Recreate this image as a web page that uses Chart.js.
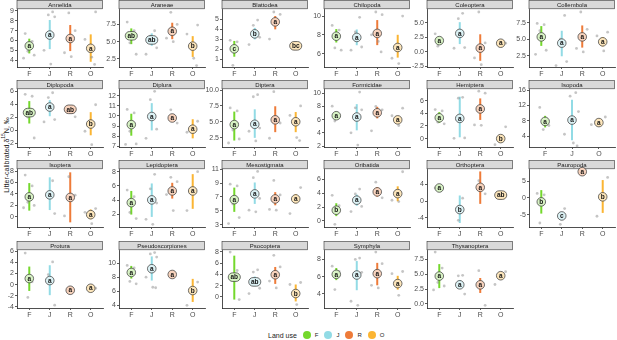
<!DOCTYPE html>
<html>
<head>
<meta charset="utf-8">
<script src="https://cdn.jsdelivr.net/npm/chart.js@4"></script>
<style>
  body { margin: 0; background: #fff; font-family: "Liberation Sans", Arial, sans-serif; }
  #wrap { position: relative; width: 617px; height: 340px; overflow: hidden; }
  #wrap canvas { position: absolute; }
  #ytitle {
    position: absolute; left: 5px; top: 155px; white-space: nowrap;
    transform: translate(-50%, -50%) rotate(-90deg);
    font-size: 7px; color: #1a1a1a;
  }
  #ytitle sup { font-size: 5px; }
  #legend {
    position: absolute; left: 268px; top: 331px; display: flex; align-items: center;
    font-size: 7px; color: #1a1a1a;
  }
  #legend .dot { width: 8px; height: 8px; border-radius: 50%; display: inline-block; margin: 0 4px 0 6px; }
  #legend .lab { font-size: 6px; }
</style>
</head>
<body>
<div id="wrap">
  <div id="ytitle">Litter-calibrated δ<sup>15</sup>N, ‰</div>
  <div id="legend"></div>
</div>
<script>
// facets and land-use groups
const taxa = ["Annelida", "Araneae", "Blattodea", "Chilopoda", "Coleoptera", "Collembola",
  "Diplopoda", "Diplura", "Diptera", "Formicidae", "Hemiptera", "Isopoda",
  "Isoptera", "Lepidoptera", "Mesostigmata", "Oribatida", "Orthoptera", "Pauropoda",
  "Protura", "Pseudoscorpiones", "Psocoptera", "Symphyla", "Thysanoptera"];
const landUse = ["F", "J", "R", "O"];

// group means (F, J, R, O); null = group absent
const means = [
  [5.45, 6.55, 6.2, 5.2], [5.85, 5.25, 6.5, 4.35], [2.05, 3.55, 4.75, 2.35],
  [7.85, 7.72, 8.15, 6.65], [1.9, 3.15, 0.6, 1.45], [5.35, 4.4, 5.35, 4.6],
  [2.7, 3.55, 3.2, 0.95], [9.15, 9.95, 9.8, 8.7], [4.55, 4.6, 5.3, 5.0],
  [6.6, 6.4, 7.05, 5.97], [3.3, 3.2, 4.7, 0.0], [7.85, 8.2, null, 7.55],
  [3.5, 3.85, 3.4, 0.4], [3.67, 4.05, 5.3, 5.3], [6.62, 7.45, 6.72, 6.72],
  [1.55, 3.0, 4.2, 3.95], [3.15, -2.0, 3.3, 1.45], [-1.2, -5.4, 7.8, 0.3],
  [1.08, 0.72, -1.02, -0.66], [8.67, 9.2, 8.38, 6.1], [3.5, 2.66, 3.93, 0.6],
  [6.27, 6.19, 6.35, 5.2], [4.66, 3.2, 3.2, 4.72]
];

// interval ends; null = no interval drawn
const ciLow = [
  [4.68, 5.12, 4.92, 3.83], [4.64, 4.4, 5.36, 2.79], [1.26, 3.0, 4.0, null],
  [7.18, 6.89, 6.9, 5.57], [1.4, 1.3, -1.6, null], [3.98, 2.4, 3.72, 3.9],
  [1.03, 2.15, 2.9, -0.77], [8.06, 8.58, 9.6, 7.8], [2.04, 2.46, 3.36, 3.36],
  [6.1, 4.38, 6.2, 5.5], [2.5, 0.21, 2.96, -0.3], [6.3, 3.0, null, 7.0],
  [1.1, 1.2, -0.94, -0.4], [2.0, 1.67, 4.23, 2.8], [4.85, 6.0, 5.8, 6.1],
  [0.7, 2.2, 3.5, 2.85], [null, -5.2, -0.64, null], [-4.7, -6.0, null, -4.5],
  [-1.14, -1.9, null, null], [7.8, 7.52, null, 4.48], [-0.47, 2.0, 2.3, -0.8],
  [5.6, 4.43, 5.0, 4.5], [2.65, 2.8, 1.84, null]
];
const ciHigh = [
  [6.18, 8.08, 7.57, 6.62], [6.92, 6.2, 7.74, 5.8], [2.84, 4.15, 5.34, null],
  [8.61, 8.57, 9.57, 8.0], [2.45, 5.1, 3.0, null], [6.99, 6.28, 7.09, 5.3],
  [4.46, 4.6, 3.5, 2.77], [10.22, 11.26, 10.0, 9.68], [6.6, 6.96, 7.44, 6.53],
  [7.2, 8.36, 7.95, 6.5], [4.2, 6.64, 6.37, 0.3], [9.3, 13.5, null, 8.1],
  [5.9, 6.9, 7.77, 1.3], [5.3, 6.35, 6.44, 7.65], [8.36, 9.1, 7.7, 7.4],
  [2.56, 3.8, 4.9, 5.0], [null, 1.36, 7.1, null], [2.3, -4.8, null, 5.3],
  [3.23, 3.47, null, null], [9.6, 10.95, null, 7.76], [7.3, 3.6, 5.3, 2.2],
  [7.0, 7.81, 7.6, 6.1], [6.66, 4.0, 4.34, null]
];

// compact letter display
const letters = [
  ["a", "a", "a", "a"], ["ab", "ab", "a", "b"], ["c", "b", "a", "bc"],
  ["a", "a", "a", "a"], ["a", "a", "a", "a"], ["a", "a", "a", "a"],
  ["ab", "a", "ab", "b"], ["a", "a", "a", "a"], ["a", "a", "a", "a"],
  ["a", "a", "a", "a"], ["a", "a", "a", "b"], ["a", "a", "", "a"],
  ["a", "a", "a", "a"], ["a", "a", "a", "a"], ["a", "a", "a", "a"],
  ["b", "a", "a", "a"], ["a", "b", "a", "ab"], ["b", "c", "a", "b"],
  ["a", "a", "a", "a"], ["a", "a", "a", "b"], ["ab", "ab", "a", "b"],
  ["a", "a", "a", "a"], ["a", "a", "a", "a"]
];

// individual observations per group
const rawValues = [
  [[6.7, 5.9, 4.9, 4.5, 4.2], [8.9, 8.6, 8.4, 5.0, 3.6], [8.8, 7.0, 4.75, 4.35], [8.9, 6.1, 4.3, 3.56]],
  [[7.84, 6.6, 4.83, 3.18], [6.58, 5.8, 4.1, 3.18], [9.25, 7.5, 5.5, 5.0], [7.4, 6.1, 2.6, 1.53]],
  [[2.9, 2.75, 0.4], [4.93, 4.4, 3.2, 2.48], [5.74, 5.5, 3.03], [2.35]],
  [[9.0, 8.5, 6.6, 6.36], [9.86, 8.3, 6.7, 6.36], [10.43, 10.14, 8.0, 7.3, 6.18], [10.0, 5.5, 4.93]],
  [[3.08, 2.0, 0.93], [6.63, 5.7, 0.7, 0.58], [6.86, 1.5, -1.1, -2.27], [1.45]],
  [[7.4, 7.2, 6.3, 3.32, 2.7], [8.62, 5.0, 1.6, 0.99], [9.13, 6.5, 3.6, 3.06], [6.07, 5.5, 3.21]],
  [[5.49, 5.2, 2.0, -1.18], [5.74, 5.0, 1.64, 1.28], [3.7, 2.05], [3.9, -0.15, -2.2]],
  [[10.64, 10.3, 8.5, 7.25, 7.2], [12.42, 11.6, 8.7, 7.8], [10.6, 9.3], [9.48, 8.4]],
  [[7.18, 6.7, 3.7, 2.28, 1.65], [9.26, 8.94, 4.0, 3.5, 1.98], [9.74, 4.8, 2.4], [7.5, 6.0, 2.5, 2.04]],
  [[8.05, 6.5, 5.8], [10.2, 7.8, 7.5, 4.0, 2.14], [8.0, 7.5, 4.3], [7.74, 6.6, 5.1]],
  [[4.6, 4.38, 2.6, 2.34], [6.54, 6.4, 0.1, 0.05], [7.52, 7.2, 2.16, 2.1], [1.86, -0.96]],
  [[11.48, 6.8, 5.74], [15.3, 14.4, 10.4, 4.52, 2.26, 1.48], [], [9.0, 7.0]],
  [[7.3, 5.4, 2.56, 2.0, 1.6], [6.3, 4.0, 0.58], [7.0, 3.8, 0.17], [1.45, 0.8, -1.17]],
  [[5.42, 4.5, 2.3, 1.44], [7.62, 5.6, 3.6, 1.34, 0.63], [7.2, 6.6, 4.8, 2.56], [8.0, 2.56]],
  [[8.85, 8.6, 6.0, 4.03, 3.15], [10.7, 9.8, 6.8, 5.1, 4.85], [9.4, 7.3, 5.2, 5.1], [8.36, 4.6]],
  [[3.7, 2.2, -0.48], [4.6, 3.9, 2.1, 1.35], [5.6, 3.34], [7.1, 2.99, 2.8]],
  [[3.15], [0.72, -4.56], [4.9, 1.76], [1.45]],
  [[1.3, 0.9, -7.5], [-3.2, -7.9], [7.8], [6.1, -5.5]],
  [[5.64, 0.5, -2.3], [4.07, 1.8, -3.7], [-1.02], [-0.66]],
  [[9.67, 9.3, 7.4, 7.05], [11.5, 11.3, 10.86, 8.0, 6.57, 6.5], [8.38], [7.3, 4.0]],
  [[7.94, 4.67, 2.9, -0.47], [4.79, 4.4, 1.53, 0.6], [7.35, 5.3, 2.8, 1.6], [2.55, 2.2, -1.36]],
  [[7.22, 6.6, 4.5], [8.15, 8.0, 6.5, 3.15, 2.68], [8.85, 7.5, 5.0, 4.7], [6.6, 6.35, 3.84]],
  [[8.66, 6.0, 3.6, 3.0, 2.35], [4.78, 4.7, 1.65], [5.56, -0.22], [5.4, 3.25]]
];

// y axis limits and tick labels per facet
const yMin = [3.3, 1.33, 0.23, 4.57, -2.67, 0.77, -2.56, 6.95, 1.02, 1.85, -1.33, 1.22,
  -1.75, 0.26, 2.66, -0.87, -6.16, -8.7, -4.2, 3.62, -1.96, 2.37, -0.67];
const yMax = [9.2, 9.73, 6.04, 10.75, 7.38, 9.59, 6.31, 12.65, 10.16, 10.66, 7.86, 16.26,
  8.35, 8.37, 11.05, 7.5, 7.68, 8.6, 6.2, 11.86, 8.3, 9.09, 9.01];
const yTicks = [
  [4, 5, 6, 7, 8, 9], [2.5, 5, 7.5], [1, 2, 3, 4, 5], [6, 8, 10], [-2.5, 0, 2.5, 5],
  [2.5, 5, 7.5], [-2, 0, 2, 4, 6], [7, 8, 9, 10, 11, 12], [2.5, 5, 7.5, 10],
  [2, 4, 6, 8, 10], [0, 2, 4, 6], [4, 8, 12, 16], [0, 2, 4, 6, 8], [2, 4, 6, 8],
  [3, 5, 7, 9, 11], [0, 2, 4, 6], [-4, 0, 4], [-5, 0, 5], [-4, -2, 0, 2, 4, 6],
  [4, 6, 8, 10], [0, 2, 4, 6, 8], [4, 6, 8], [0, 2.5, 5, 7.5]
];

const groupColors = { F: "#74d82c", J: "#92dbe5", R: "#ee7b39", O: "#fbb533" };
const paleColors = { F: "#d8f3c5", J: "#dcf2f5", R: "#f8d3bd", O: "#fde6bb" };
const jitter = [-0.2, 0.14, -0.07, 0.24, -0.28, 0.05, 0.19, -0.13];

const AXW = 24;      // y axis width inside each canvas
const PLOTW = 88;    // plot panel width
const CANH = 78;     // canvas height per facet row
const FONT = '"Liberation Sans", Arial, sans-serif';

const wrap = document.getElementById("wrap");

function renderPanel(i) {
  const col = i % 6;
  const row = Math.floor(i / 6);
  const plotLeft = 17 + col * 102.4;

  const canvas = document.createElement("canvas");
  canvas.width = AXW + PLOTW + 2;
  canvas.height = CANH;
  canvas.style.left = (plotLeft - AXW) + "px";
  canvas.style.top = (row * 80.2) + "px";
  wrap.appendChild(canvas);

  // only the groups that exist in this facet get an x position
  const present = landUse.map((g, j) => j).filter((j) => means[i][j] !== null);
  const cats = present.map((j) => landUse[j]);
  const decimals = yTicks[i].some((v) => !Number.isInteger(v)) ? 1 : 0;

  const datasets = [];
  const rawPts = [];
  present.forEach((j, p) => {
    rawValues[i][j].forEach((v, k) => rawPts.push({ x: p + 1 + jitter[(k + j) % jitter.length], y: v }));
  });
  datasets.push({
    type: "scatter", data: rawPts, pointRadius: 1.4, borderWidth: 0,
    backgroundColor: "rgba(140,140,140,0.5)", clip: false,
  });
  present.forEach((j, p) => {
    if (ciLow[i][j] === null) return;
    datasets.push({
      type: "line", data: [{ x: p + 1, y: ciLow[i][j] }, { x: p + 1, y: ciHigh[i][j] }],
      borderColor: groupColors[landUse[j]], borderWidth: 2, pointRadius: 0, clip: false,
    });
  });
  datasets.push({
    type: "scatter", label: "means", pointRadius: 0, clip: false,
    data: present.map((j, p) => ({ x: p + 1, y: means[i][j] })),
  });
  const meanIdx = datasets.length - 1;

  const axisGrid = { display: true, drawOnChartArea: false, drawTicks: true, tickLength: 2, color: "#333", lineWidth: 0.8 };
  const axisBorder = { display: true, color: "#222", width: 0.8 };
  const tickFont = { size: 7, family: FONT };

  new Chart(canvas.getContext("2d"), {
    type: "scatter",
    data: { datasets },
    options: {
      responsive: false,
      animation: false,
      devicePixelRatio: 1,
      layout: { padding: { top: 9, right: 2, left: 0, bottom: 0 } },
      scales: {
        x: {
          type: "linear", min: 0.4, max: cats.length + 0.6,
          afterBuildTicks: (s) => { s.ticks = cats.map((c, p) => ({ value: p + 1 })); },
          afterFit: (s) => { s.height = 11; },
          ticks: { callback: (v) => cats[Math.round(v) - 1], color: "#4d4d4d", font: tickFont, padding: 1, maxRotation: 0 },
          grid: axisGrid, border: axisBorder,
        },
        y: {
          min: yMin[i], max: yMax[i],
          afterBuildTicks: (s) => { s.ticks = yTicks[i].map((v) => ({ value: v })); },
          afterFit: (s) => { s.width = AXW; },
          ticks: { callback: (v) => v.toFixed(decimals), color: "#4d4d4d", font: tickFont, padding: 1 },
          grid: axisGrid, border: axisBorder,
        },
      },
      plugins: { legend: { display: false }, tooltip: { enabled: false } },
    },
    plugins: [{
      id: "facetDecor",
      afterDraw(chart) {
        const { ctx, chartArea: { left, right } } = chart;
        // strip
        ctx.save();
        ctx.fillStyle = "#d9d9d9";
        ctx.strokeStyle = "#333";
        ctx.lineWidth = 0.6;
        ctx.fillRect(left, 0.5, right - left - 0.5, 8.3);
        ctx.strokeRect(left, 0.5, right - left - 0.5, 8.3);
        ctx.fillStyle = "#1a1a1a";
        ctx.font = "6px " + FONT;
        ctx.textAlign = "center";
        ctx.textBaseline = "middle";
        ctx.fillText(taxa[i], (left + right) / 2, 4.9);

        // letter badges on the group means
        const meta = chart.getDatasetMeta(meanIdx);
        ctx.font = "bold 6.5px " + FONT;
        meta.data.forEach((pt, p) => {
          const j = present[p];
          const txt = letters[i][j];
          const tw = ctx.measureText(txt).width;
          const h = 8.6;
          const w = Math.max(h, tw + 4.5);
          ctx.beginPath();
          ctx.roundRect(pt.x - w / 2, pt.y - h / 2, w, h, h / 2);
          ctx.fillStyle = paleColors[landUse[j]];
          ctx.fill();
          ctx.lineWidth = 0.7;
          ctx.strokeStyle = "#333";
          ctx.stroke();
          ctx.fillStyle = "#111";
          ctx.fillText(txt, pt.x, pt.y + 0.4);
        });
        ctx.restore();
      },
    }],
  });
}

taxa.forEach((t, i) => renderPanel(i));

// legend
const legend = document.getElementById("legend");
legend.innerHTML = '<span>Land use</span>' + landUse.map((g) =>
  `<span class="dot" style="background:${groupColors[g]}"></span><span class="lab">${g}</span>`).join("");
</script>
</body>
</html>
